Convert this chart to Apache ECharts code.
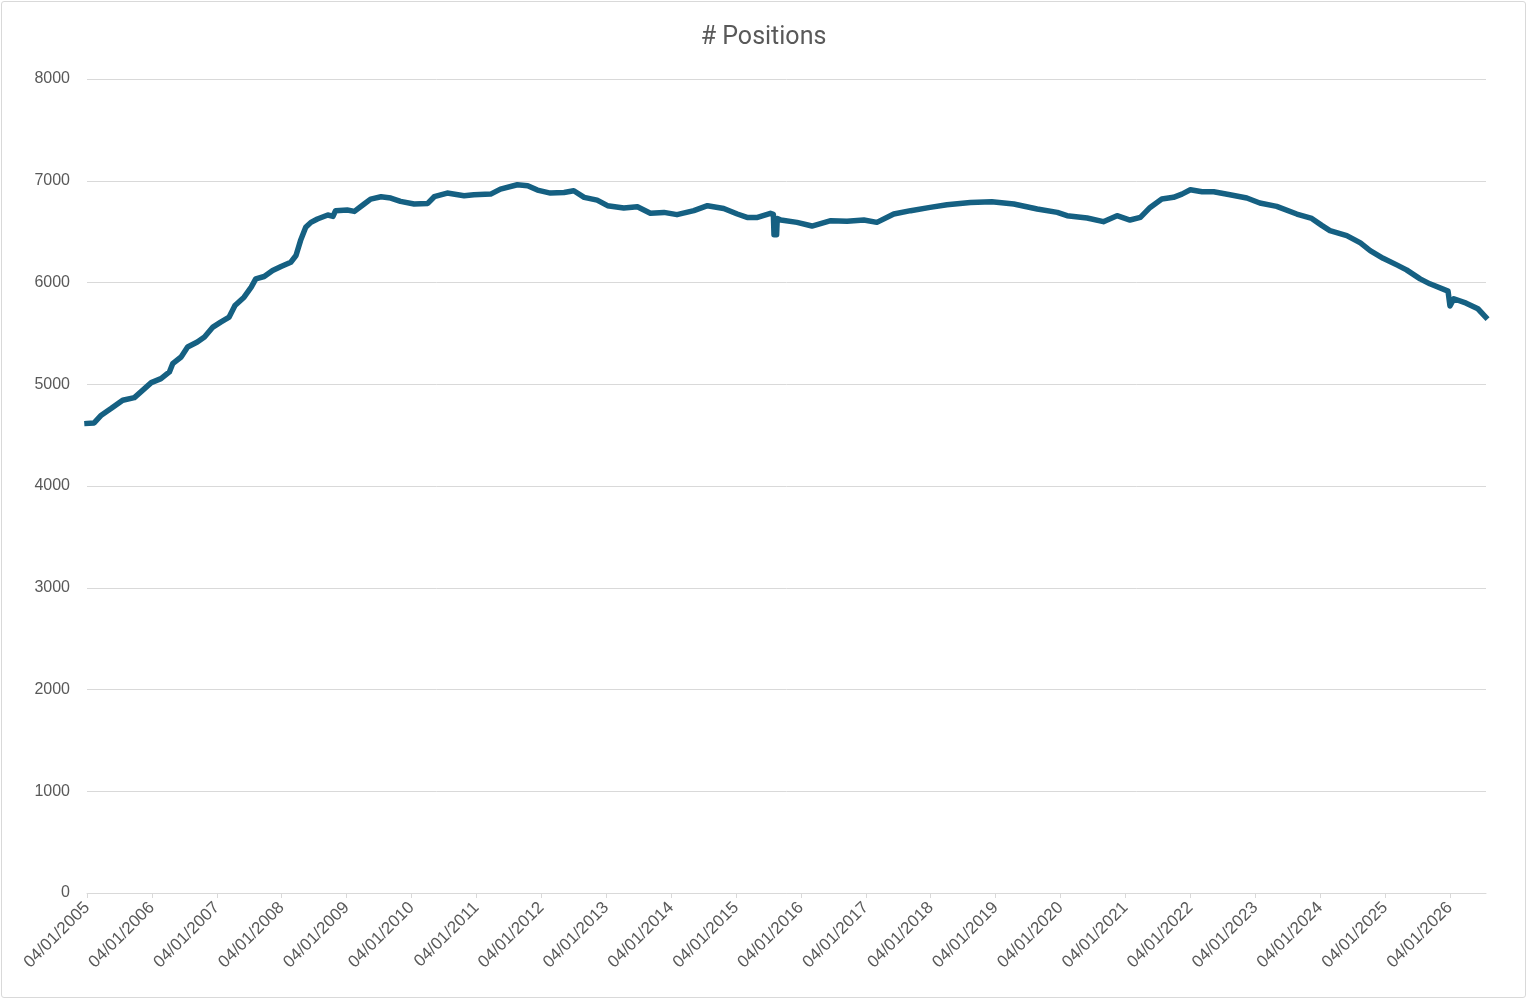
<!DOCTYPE html>
<html>
<head>
<meta charset="utf-8">
<script src="https://cdn.jsdelivr.net/npm/echarts@6/dist/echarts.min.js"></script>
<style>
html,body{margin:0;padding:0;background:#fff;}
#c{position:absolute;left:1px;top:1px;width:1523px;height:995px;border:1px solid #d9d9d9;border-radius:3px;}
</style>
</head>
<body>
<div id="c"></div>
<script>
// x = decimal year (2005.00 = 04/01/2005), y = number of positions
const years = [
2005.00,2005.11,2005.22,2005.37,2005.55,2005.73,2005.83,2005.99,2006.14,2006.27,
2006.32,2006.45,2006.55,2006.70,2006.81,2006.94,2007.06,2007.19,2007.28,2007.42,
2007.53,2007.60,2007.73,2007.86,2007.99,2008.14,2008.22,2008.29,2008.37,2008.45,
2008.55,2008.71,2008.79,2008.83,2009.01,2009.12,2009.27,2009.37,2009.53,2009.68,
2009.83,2010.04,2010.25,2010.35,2010.55,2010.81,2010.96,2011.22,2011.37,2011.63,
2011.79,2011.94,2012.14,2012.35,2012.50,2012.66,2012.86,2013.02,2013.27,2013.48,
2013.68,2013.89,2014.09,2014.35,2014.56,2014.81,2015.02,2015.17,2015.33,2015.53,
2015.575,2015.585,2015.625,2015.635,2015.69,2015.94,2016.17,2016.46,2016.71,2016.97,
2017.17,2017.43,2017.69,2017.99,2018.25,2018.61,2018.94,2019.28,2019.64,2019.95,
2020.10,2020.41,2020.66,2020.87,2021.07,2021.23,2021.38,2021.56,2021.74,2021.87,
2022.00,2022.18,2022.36,2022.61,2022.87,2023.07,2023.33,2023.64,2023.87,2024.03,
2024.15,2024.41,2024.62,2024.77,2024.97,2025.18,2025.33,2025.54,2025.69,2025.97,
2025.99,2026.00,2026.03,2026.06,2026.25,2026.43,2026.55
];
const positions = [
4615,4620,4696,4761,4843,4869,4925,5016,5055,5121,
5202,5268,5366,5415,5464,5562,5611,5660,5774,5856,
5954,6036,6059,6118,6157,6199,6265,6412,6542,6591,
6624,6663,6650,6706,6712,6699,6771,6820,6843,6830,
6797,6771,6777,6843,6879,6853,6863,6869,6918,6961,
6951,6908,6879,6885,6902,6837,6810,6755,6732,6745,
6680,6689,6667,6706,6755,6728,6673,6640,6640,6680,
6670,6470,6470,6630,6614,6591,6555,6608,6601,6614,
6591,6673,6706,6738,6765,6787,6794,6771,6722,6689,
6657,6634,6598,6657,6614,6640,6738,6820,6837,6869,
6912,6892,6892,6863,6830,6781,6748,6673,6630,6559,
6510,6461,6389,6314,6238,6173,6124,6036,5987,5915,
5900,5770,5770,5840,5797,5742,5660
];
const yTicks = [0,1000,2000,3000,4000,5000,6000,7000,8000];
const xStart = 2005, xEnd = 2026.555;
const labelPrefix = '04/01/';
const titleText = '# Positions';

const chart = echarts.init(document.getElementById('c'));
chart.setOption({
  animation:false,
  title:{text:titleText,left:'center',top:18,
    textStyle:{fontFamily:'Roboto',fontSize:25,fontWeight:'normal',color:'#595959'}},
  grid:{left:85,right:39,top:77,bottom:104,containLabel:false},
  xAxis:{type:'value',min:xStart,max:xEnd,interval:1,
    axisLine:{show:true,lineStyle:{color:'#d9d9d9',width:1}},
    axisTick:{show:true,length:5,lineStyle:{color:'#d9d9d9'}},
    splitLine:{show:false},
    axisLabel:{rotate:45,margin:12,color:'#595959',fontFamily:'Liberation Sans',fontSize:17,
      showMaxLabel:false,
      formatter:v=>labelPrefix+Math.round(v)}},
  yAxis:{type:'value',min:yTicks[0],max:yTicks[yTicks.length-1],interval:1000,
    axisLine:{show:false},axisTick:{show:false},
    splitLine:{lineStyle:{color:'#d9d9d9',width:1}},
    axisLabel:{margin:17,color:'#595959',fontFamily:'Liberation Sans',fontSize:16,
      formatter:v=>String(v)}},
  series:[{type:'line',data:years.map((x,i)=>[x,positions[i]]),
    showSymbol:false,symbol:'rect',
    lineStyle:{color:'#156082',width:5.5,cap:'square',join:'round'},
    itemStyle:{color:'#156082'}}]
});
</script>
</body>
</html>
